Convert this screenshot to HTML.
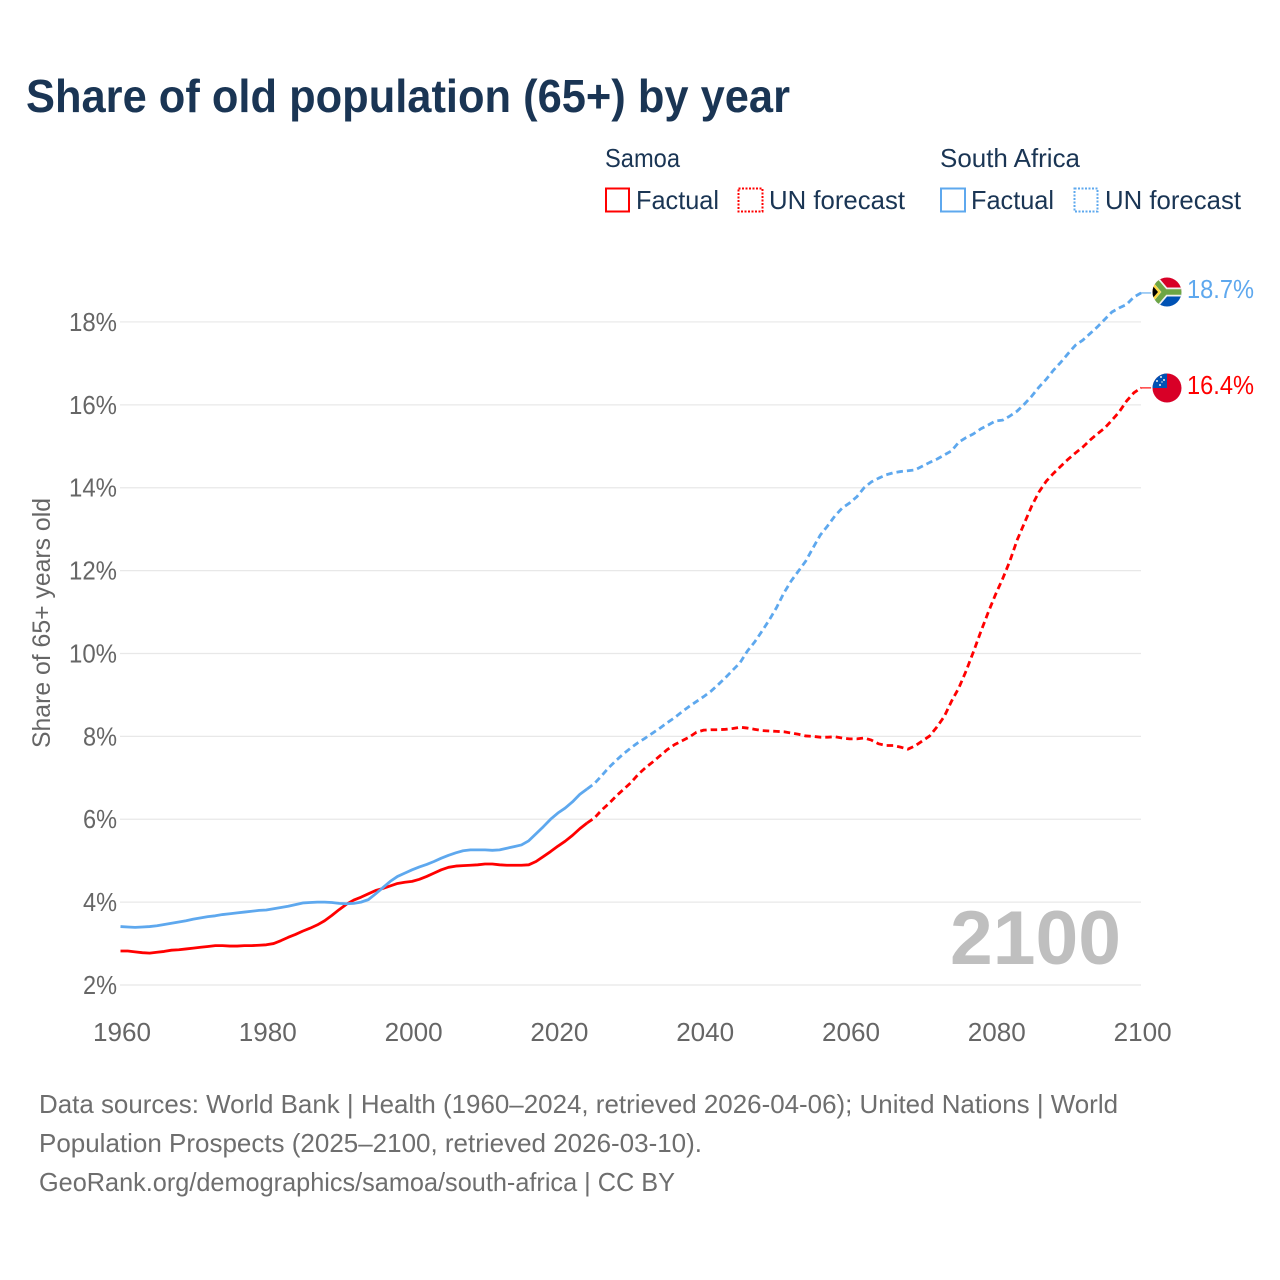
<!DOCTYPE html>
<html lang="en">
<head>
<meta charset="utf-8">
<title>Share of old population (65+) by year</title>
<style>
html,body{margin:0;padding:0;background:#fff;}
svg{display:block;font-family:"Liberation Sans",sans-serif;}
</style>
</head>
<body>
<svg id="chart" xmlns="http://www.w3.org/2000/svg" width="1280" height="1280" viewBox="0 0 1280 1280">
  <defs>
    <clipPath id="clip-za"><circle cx="1167" cy="292" r="14.5"/></clipPath>
    <clipPath id="clip-ws"><circle cx="1167" cy="388" r="14.5"/></clipPath>
  </defs>
  <rect width="1280" height="1280" fill="#fff"/>
  <text x="26" y="112" font-size="46" font-weight="700" fill="#1a3554" textLength="764" lengthAdjust="spacingAndGlyphs">Share of old population (65+) by year</text>

  <g font-size="26" fill="#1a3554">
    <text x="605" y="167" textLength="75" lengthAdjust="spacingAndGlyphs">Samoa</text>
    <rect x="606" y="188.500" width="23" height="23" fill="none" stroke="#ff0000" stroke-width="2"/>
    <text x="636" y="209" textLength="83" lengthAdjust="spacingAndGlyphs">Factual</text>
    <rect x="738.500" y="188.500" width="24" height="23" fill="none" stroke="#ff0000" stroke-width="2" stroke-dasharray="2 1.500"/>
    <text x="769" y="209" textLength="136" lengthAdjust="spacingAndGlyphs">UN forecast</text>
    <text x="940" y="167" textLength="140" lengthAdjust="spacingAndGlyphs">South Africa</text>
    <rect x="941" y="188.500" width="24" height="23" fill="none" stroke="#5ea8ee" stroke-width="2"/>
    <text x="971" y="209" textLength="83" lengthAdjust="spacingAndGlyphs">Factual</text>
    <rect x="1074.500" y="188.500" width="23" height="23" fill="none" stroke="#5ea8ee" stroke-width="2" stroke-dasharray="2 1.500"/>
    <text x="1105" y="209" textLength="136" lengthAdjust="spacingAndGlyphs">UN forecast</text>
  </g>

  <g id="grid"></g>
  <g id="y-ticks"></g>
  <g id="x-ticks"></g>
  <text transform="translate(50,623) rotate(-90)" text-anchor="middle" font-size="25" fill="#666666" textLength="250" lengthAdjust="spacingAndGlyphs">Share of 65+ years old</text>

  <text x="1121" y="964" text-anchor="end" font-size="76" font-weight="700" fill="#bfbfbf" textLength="171" lengthAdjust="spacingAndGlyphs">2100</text>

  <g id="series"></g>

  <g clip-path="url(#clip-za)">
    <rect x="1152" y="277" width="30" height="15" fill="#d80027"/>
    <rect x="1152" y="292" width="30" height="15" fill="#0052b4"/>
    <path d="M1148 272 L1165 292 L1148 312 M1165 292 L1184 292" fill="none" stroke="#f0f0f0" stroke-width="9"/>
    <path d="M1148 272 L1165 292 L1148 312 M1165 292 L1184 292" fill="none" stroke="#6da544" stroke-width="5.500"/>
    <path d="M1152 281 L1161 292 L1152 303 Z" fill="#ffda44"/>
    <path d="M1152 285 L1158 292 L1152 299 Z" fill="#000"/>
  </g>
  <g clip-path="url(#clip-ws)">
    <rect x="1152" y="373" width="30" height="30" fill="#d80027"/>
    <rect x="1152" y="373" width="15" height="15" fill="#0052b4"/>
    <g fill="#f0f0f0">
      <circle cx="1161" cy="377" r="1"/>
      <circle cx="1157" cy="381" r="1"/>
      <circle cx="1164" cy="380" r="1"/>
      <circle cx="1160" cy="385" r="1"/>
      <circle cx="1162" cy="382" r="0.700"/>
    </g>
  </g>

  <text x="1187" y="298" font-size="26" fill="#5ea8ee" textLength="67" lengthAdjust="spacingAndGlyphs">18.7%</text>
  <text x="1187" y="394" font-size="26" fill="#ff0000" textLength="67" lengthAdjust="spacingAndGlyphs">16.4%</text>

  <g font-size="26" fill="#6e6e6e">
    <text x="39" y="1113" textLength="1079" lengthAdjust="spacingAndGlyphs">Data sources: World Bank | Health (1960–2024, retrieved 2026-04-06); United Nations | World</text>
    <text x="39" y="1152" textLength="663" lengthAdjust="spacingAndGlyphs">Population Prospects (2025–2100, retrieved 2026-03-10).</text>
    <text x="39" y="1191" textLength="636" lengthAdjust="spacingAndGlyphs">GeoRank.org/demographics/samoa/south-africa | CC BY</text>
  </g>
</svg>
<script>
const yTicks = [2, 4, 6, 8, 10, 12, 14, 16, 18];
const xTicks = [1960, 1980, 2000, 2020, 2040, 2060, 2080, 2100];
const factualYears = [1960,1961,1962,1963,1964,1965,1966,1967,1968,1969,1970,1971,1972,1973,1974,1975,1976,1977,1978,1979,1980,1981,1982,1983,1984,1985,1986,1987,1988,1989,1990,1991,1992,1993,1994,1995,1996,1997,1998,1999,2000,2001,2002,2003,2004,2005,2006,2007,2008,2009,2010,2011,2012,2013,2014,2015,2016,2017,2018,2019,2020,2021,2022,2023,2024];
const forecastYears = [2024,2025,2026,2027,2028,2029,2030,2031,2032,2033,2034,2035,2036,2037,2038,2039,2040,2041,2042,2043,2044,2045,2046,2047,2048,2049,2050,2051,2052,2053,2054,2055,2056,2057,2058,2059,2060,2061,2062,2063,2064,2065,2066,2067,2068,2069,2070,2071,2072,2073,2074,2075,2076,2077,2078,2079,2080,2081,2082,2083,2084,2085,2086,2087,2088,2089,2090,2091,2092,2093,2094,2095,2096,2097,2098,2099,2100];
const samoaFactual = [2.82,2.82,2.80,2.78,2.77,2.79,2.81,2.84,2.85,2.87,2.89,2.91,2.93,2.95,2.95,2.94,2.94,2.95,2.95,2.96,2.97,3.00,3.07,3.15,3.22,3.30,3.37,3.45,3.55,3.68,3.82,3.95,4.05,4.12,4.20,4.28,4.33,4.39,4.45,4.48,4.50,4.55,4.62,4.70,4.78,4.84,4.87,4.88,4.89,4.90,4.92,4.92,4.90,4.89,4.89,4.89,4.90,4.98,5.10,5.22,5.35,5.47,5.61,5.77,5.91];
const samoaForecast = [5.91,6.03,6.22,6.38,6.56,6.72,6.88,7.08,7.24,7.38,7.53,7.68,7.80,7.89,7.98,8.10,8.15,8.16,8.16,8.17,8.19,8.22,8.20,8.17,8.14,8.13,8.12,8.11,8.08,8.05,8.01,8.00,7.98,7.98,7.99,7.96,7.94,7.94,7.96,7.91,7.82,7.78,7.78,7.74,7.69,7.77,7.89,8.01,8.23,8.48,8.85,9.17,9.58,10.04,10.52,10.98,11.41,11.80,12.23,12.74,13.15,13.56,13.90,14.16,14.35,14.52,14.69,14.84,14.98,15.15,15.30,15.44,15.63,15.83,16.09,16.29,16.41];
const southAfricaFactual = [3.41,3.40,3.39,3.40,3.41,3.43,3.46,3.49,3.52,3.55,3.59,3.62,3.65,3.67,3.70,3.72,3.74,3.76,3.78,3.80,3.81,3.84,3.87,3.90,3.94,3.98,3.99,4.00,4.00,3.99,3.97,3.96,3.97,4.00,4.06,4.20,4.35,4.50,4.62,4.70,4.78,4.85,4.91,4.98,5.06,5.13,5.19,5.24,5.26,5.26,5.26,5.25,5.26,5.30,5.34,5.38,5.48,5.65,5.82,6.00,6.15,6.27,6.42,6.60,6.73];
const southAfricaForecast = [6.73,6.86,7.05,7.25,7.42,7.58,7.72,7.85,7.96,8.08,8.20,8.33,8.45,8.59,8.72,8.84,8.96,9.09,9.25,9.42,9.60,9.78,10.06,10.28,10.54,10.81,11.11,11.46,11.75,11.99,12.23,12.55,12.86,13.08,13.32,13.51,13.63,13.78,14.00,14.14,14.23,14.31,14.36,14.39,14.41,14.43,14.52,14.61,14.69,14.79,14.89,15.10,15.21,15.30,15.42,15.51,15.61,15.63,15.73,15.85,16.02,16.21,16.43,16.62,16.84,17.03,17.24,17.44,17.56,17.72,17.88,18.06,18.24,18.34,18.42,18.60,18.70];

const SVGNS = 'http://www.w3.org/2000/svg';
function xScale(year) { return 120.5 + (year - 1960) * 7.29; }
function yScale(value) { return 985 - (value - 2) * 41.44; }

function makeText(parent, str, x, y, anchor, length) {
  const t = document.createElementNS(SVGNS, 'text');
  t.setAttribute('x', x);
  t.setAttribute('y', y);
  t.setAttribute('text-anchor', anchor);
  t.setAttribute('font-size', '26');
  t.setAttribute('fill', '#666666');
  t.setAttribute('textLength', length);
  t.setAttribute('lengthAdjust', 'spacingAndGlyphs');
  t.textContent = str;
  parent.appendChild(t);
  return t;
}

const gridGroup = document.getElementById('grid');
const yTickGroup = document.getElementById('y-ticks');
yTicks.forEach(function (v) {
  const line = document.createElementNS(SVGNS, 'line');
  line.setAttribute('x1', 120);
  line.setAttribute('x2', 1141);
  line.setAttribute('y1', yScale(v));
  line.setAttribute('y2', yScale(v));
  line.setAttribute('stroke', '#e8e8e8');
  line.setAttribute('stroke-width', '1.2');
  
  
  gridGroup.appendChild(line);
  const label = makeText(yTickGroup, v + '%', 117, yScale(v) + 9, 'end', v >= 10 ? 48 : 34);
  
  
});

const xTickGroup = document.getElementById('x-ticks');
xTicks.forEach(function (yr) {
  const label = makeText(xTickGroup, String(yr), xScale(yr) + 1.5, 1041, 'middle', 58);
  
  
});

function drawLine(years, values, color, dashed, name) {
  const p = document.createElementNS(SVGNS, 'path');
  const d = values.map(function (v, i) {
    return (i ? 'L' : 'M') + xScale(years[i]).toFixed(2) + ' ' + yScale(v).toFixed(2);
  }).join(' ');
  p.setAttribute('d', d);
  p.setAttribute('fill', 'none');
  p.setAttribute('stroke', color);
  p.setAttribute('stroke-width', '2.8');
  p.setAttribute('stroke-linejoin', 'round');
  if (dashed) p.setAttribute('stroke-dasharray', '6.5 4');
  
  
  document.getElementById('series').appendChild(p);
}
function drawLeader(years, values, color, name) {
  const last = values.length - 1;
  const l = document.createElementNS(SVGNS, 'line');
  l.setAttribute('x1', xScale(years[last]) - 1);
  l.setAttribute('x2', xScale(years[last]) + 10);
  l.setAttribute('y1', yScale(values[last]));
  l.setAttribute('y2', yScale(values[last]));
  l.setAttribute('stroke', color);
  l.setAttribute('stroke-opacity', '0.75');
  l.setAttribute('stroke-width', '1.5');
  
  
  document.getElementById('series').appendChild(l);
}
drawLine(factualYears, samoaFactual, '#ff0000', false, 'line-samoa-factual');
drawLine(forecastYears, samoaForecast, '#ff0000', true, 'line-samoa-forecast');
drawLine(factualYears, southAfricaFactual, '#5ea8ee', false, 'line-south-africa-factual');
drawLine(forecastYears, southAfricaForecast, '#5ea8ee', true, 'line-south-africa-forecast');
drawLeader(forecastYears, samoaForecast, '#ff0000', 'leader-samoa');
drawLeader(forecastYears, southAfricaForecast, '#5ea8ee', 'leader-south-africa');
</script>
</body>
</html>
